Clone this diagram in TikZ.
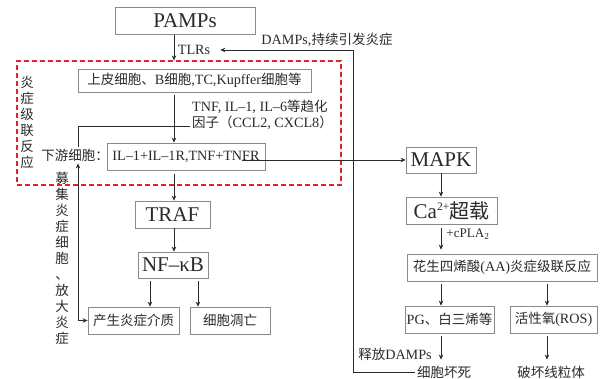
\documentclass[tikz,border=0pt]{standalone}
\usepackage{fontspec}
\setmainfont[Scale=1.05]{Liberation Serif}
\newfontfamily\cjk{Noto Sans CJK SC}
\usepackage{tikz}
\usetikzlibrary{arrows.meta,positioning,calc}
\definecolor{dashred}{HTML}{D7262E}
\definecolor{boxgray}{HTML}{8A8A8A}
\definecolor{ink}{HTML}{2A2A2A}
\newcommand\zh[1]{{\cjk #1}}

\begin{document}
\begin{tikzpicture}[x=1pt,y=-1pt,font=\fontsize{13.5}{16}\selectfont,text=ink,
  >={Stealth[length=5pt,width=4.5pt]},
  box/.style={draw=boxgray,line width=0.7pt,inner sep=0pt,minimum height=27pt},
  bigbox/.style={box,font=\fontsize{20}{24}\selectfont},
  lbl/.style={inner sep=2pt},
  vtext/.style={align=center,inner sep=0pt,font=\cjk\fontsize{13.5}{16}\selectfont},
  arr/.style={draw=ink,line width=0.8pt,->},
  link/.style={draw=ink,line width=0.8pt}]
\useasboundingbox (0,0) rectangle (604,379);
% guide columns
\coordinate (trunk) at (174,0);
\coordinate (medx) at (150,0);
\coordinate (apopx) at (198,0);
\coordinate (rtrunk) at (441,0);
\coordinate (rosx) at (547,0);
\coordinate (fb) at (353,0);

% cascade frame
\node[draw=dashred,dash pattern=on 5pt off 3pt,line width=1.2pt,
  minimum width=324pt,minimum height=124pt,inner sep=0pt] (cascade) at (179,123) {};
\node[vtext] (cascadelbl) at (27,122) {炎\\症\\级\\联\\反\\应};

% left column
\node[bigbox,minimum width=140pt] (pamps) at (185,21) {PAMPs};
\node[lbl] (tlrs) at (194,50) {TLRs};
\node[lbl] (damps) at (327,40) {DAMPs,\zh{持续引发炎症}};
\node[box,minimum width=233pt,minimum height=23pt] (epi) at (194.5,80.5)
  {\zh{上皮细胞、}B\zh{细胞},TC,Kupffer\zh{细胞等}};
\node[lbl,anchor=west,align=left] (cyto) at (190,115)
  {TNF, IL–1, IL–6\zh{等趋化}\\\zh{因子（}CCL2, CXCL8\zh{）}};
\node[lbl] (dslbl) at (75,155) {\zh{下游细胞：}};
\node[box,minimum width=158pt] (down) at (186,156.5) {IL–1+IL–1R,TNF+TNFR};
\node[vtext] (recruit) at (62,258) {募\\集\\炎\\症\\细\\胞\\、\\放\\大\\炎\\症};
\node[bigbox,minimum width=75pt] (traf) at (172.5,214.5) {TRAF};
\node[bigbox,minimum width=70pt,minimum height=26pt] (nfkb) at (173,265) {NF–κB};
\node[box,minimum width=91pt] (med) at (133.5,320.5) {\zh{产生炎症介质}};
\node[box,minimum width=80pt] (apop) at (230,320.5) {\zh{细胞凋亡}};

% right column
\node[bigbox,minimum width=70pt,minimum height=26pt] (mapk) at (441,160) {MAPK};
\node[bigbox,minimum width=91pt] (ca) at (451.5,210.5)
  {Ca\raisebox{0.75ex}{\fontsize{11}{11}\selectfont 2+}\zh{超载}};
\node[lbl,font=\fontsize{12.5}{14}\selectfont] (cpla) at (468,234) {+cPLA\textsubscript{2}};
\node[box,minimum width=190pt] (aa) at (502,267.5) {\zh{花生四烯酸}(AA)\zh{炎症级联反应}};
\node[box,minimum width=89pt] (pg) at (449.5,319.5) {PG\zh{、白三烯等}};
\node[box,minimum width=87pt] (ros) at (553.5,319.5) {\zh{活性氧}(ROS)};
\node[lbl] (release) at (395,354) {\zh{释放}DAMPs};
\node[lbl] (necro) at (444,372) {\zh{细胞坏死}};
\node[lbl] (mito) at (551,372) {\zh{破坏线粒体}};

% connectors
\draw[arr] (pamps.south -| trunk) -- (cascade.north -| trunk);
\draw[arr,shorten <=3pt] (epi.south -| trunk) -- (down.north -| trunk);
\draw[link] ([yshift=-11pt]cyto.west) -| ([xshift=3pt]dslbl.north);
\draw[link,<->] ([xshift=3pt]dslbl.south) |- (med.west);
\draw[arr,shorten <=4pt] (down.south -| trunk) -- (traf.north -| trunk);
\draw[arr] (traf.south -| trunk) -- (nfkb.north -| trunk);
\draw[arr,shorten <=3pt] (nfkb.south -| medx) -- (med.north -| medx);
\draw[arr,shorten <=3pt] (nfkb.south -| apopx) -- (apop.north -| apopx);
\draw[arr] ([xshift=-23pt]down.east |- mapk.west) -- (mapk.west);
\draw[arr] (mapk.south -| rtrunk) -- (ca.north -| rtrunk);
\draw[arr,shorten <=4pt,shorten >=4pt] (ca.south -| rtrunk) -- (aa.north -| rtrunk);
\draw[arr,shorten <=3pt] (aa.south -| rtrunk) -- (pg.north -| rtrunk);
\draw[arr,shorten <=3pt] (aa.south -| rosx) -- (ros.north -| rosx);
\draw[arr,shorten <=3pt,shorten >=4pt] (pg.south -| rtrunk) -- (necro.north -| rtrunk);
\draw[arr,shorten <=3pt,shorten >=4pt] (ros.south -| rosx) -- (mito.north -| rosx);
\draw[arr,shorten >=8pt] (necro.west) -- (necro.west -| fb) |- (tlrs.east);
\end{tikzpicture}
\end{document}
